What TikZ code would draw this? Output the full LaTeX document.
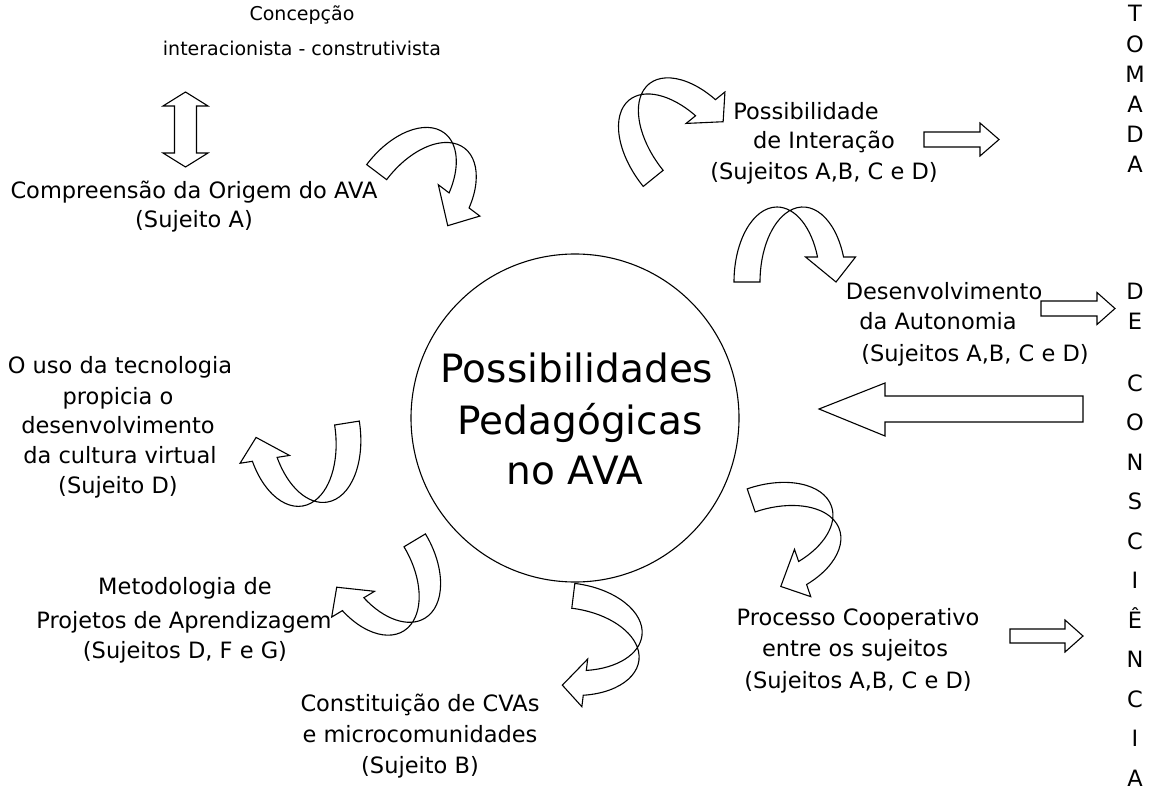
\documentclass[tikz,border=0pt]{standalone}
\usepackage{fontspec}
\setmainfont{DejaVu Sans}
\tikzset{
  ribbon/.style={draw=black, fill=white, line width=1.1pt, line join=miter},
  blockarrow/.style={draw=black, fill=white, line width=1.1pt},
  lbl/.style={anchor=base, inner sep=0pt, font=\fontsize{22.5}{29}\selectfont},
  small/.style={anchor=base, inner sep=0pt, font=\fontsize{19}{29}\selectfont},
  big/.style={anchor=base, inner sep=0pt, font=\fontsize{39}{50}\selectfont},
  vlet/.style={anchor=base, inner sep=0pt, font=\fontsize{22.5}{29}\selectfont},
}
% curved ribbon arrow: #1 transforms, #2 a, #3 b, #4 band width, #5 head height, #6 head half width
\newcommand{\crvarrow}[6]{%
  \begin{scope}[#1, yscale=-1]
    \pgfmathsetmacro{\th}{asin(#5/#3)}
    \pgfmathsetmacro{\hc}{#2*cos(\th)}
    \draw[ribbon] (-#2-#4/2,0) arc[start angle=180, end angle=\th, x radius=#2, y radius=#3]
      -- (\hc-#6,#5) -- (#2+3,0) -- (\hc+#6,#5) -- (\hc+#4/2,#5)
      arc[start angle=\th, end angle=180, x radius=#2, y radius=#3] -- cycle;
  \end{scope}}
\begin{document}
\begin{tikzpicture}[x=1pt,y=-1pt]
\useasboundingbox (0,0) rectangle (1159,794);

% central circle
\node[draw, circle, line width=1.1pt, minimum size=328pt, inner sep=0pt] (core) at (575,418) {};
\node[big] (t1) at (577,382) {Possibilidades};
\node[big] (t2) at (580,434) {Pedagógicas};
\node[big] (t3) at (575,484) {no AVA};

% top-left texts
\node[small] (c1) at (302,21) {Concepção};
\node[small] (c2) at (302,56) {interacionista - construtivista};
\node[lbl] (o1) at (194,199) {Compreensão da Origem do AVA};
\node[lbl] (o2) at (194,228) {(Sujeito A)};

% double arrow
\draw[blockarrow] (185.5,92) -- (208,106) -- (196.5,106) -- (196.5,153) -- (208,153) -- (185.5,167)
  -- (163,153) -- (174.5,153) -- (174.5,106) -- (163,106) -- cycle;

% right texts
\node[lbl] (i1) at (806,120) {Possibilidade};
\node[lbl] (i2) at (824,149) {de Interação};
\node[lbl] (i3) at (824,180) {(Sujeitos A,B, C e D)};
\node[lbl] (d1) at (944,300) {Desenvolvimento};
\node[lbl] (d2) at (938,330) {da Autonomia};
\node[lbl] (d3) at (975,361) {(Sujeitos A,B, C e D)};
\node[lbl] (p1) at (858,625) {Processo Cooperativo};
\node[lbl] (p2) at (855,656) {entre os sujeitos};
\node[lbl] (p3) at (858,688) {(Sujeitos A,B, C e D)};

% left texts
\node[lbl] (u1) at (120,373) {O uso da tecnologia};
\node[lbl] (u2) at (118,404) {propicia o};
\node[lbl] (u3) at (118,433) {desenvolvimento};
\node[lbl] (u4) at (120,463) {da cultura virtual};
\node[lbl] (u5) at (118,493) {(Sujeito D)};
\node[lbl] (m1) at (185,594) {Metodologia de};
\node[lbl] (m2) at (184,628) {Projetos de Aprendizagem};
\node[lbl] (m3) at (185,658) {(Sujeitos D, F e G)};
\node[lbl] (v1) at (420,711) {Constituição de CVAs};
\node[lbl] (v2) at (420,742) {e microcomunidades};
\node[lbl] (v3) at (420,773) {(Sujeito B)};

% straight arrows
\draw[blockarrow] (924,132) -- (980,132) -- (980,123) -- (999,139.5) -- (980,156) -- (980,147) -- (924,147) -- cycle;
\draw[blockarrow] (1041,301) -- (1097,301) -- (1097,292.5) -- (1115,308.5) -- (1097,324.5) -- (1097,316) -- (1041,316) -- cycle;
\draw[blockarrow] (1010,629) -- (1065,629) -- (1065,620) -- (1083,636) -- (1065,652) -- (1065,643) -- (1010,643) -- cycle;
\draw[blockarrow] (1083,396) -- (885,396) -- (885,383) -- (819,409) -- (885,436) -- (885,422) -- (1083,422) -- cycle;

% curved arrows
\crvarrow{shift={(411,198)}, rotate=-37}{43}{72}{25}{27}{26}
\crvarrow{shift={(687,151)}, rotate=39}{43.5}{76}{25.6}{22}{25}
\crvarrow{shift={(790,282)}}{43}{75}{26}{25}{25}
\crvarrow{shift={(303,430)}, rotate=-171}{44.5}{75}{25}{23}{25}
\crvarrow{shift={(377,563)}, rotate=-149}{44}{72}{25}{23}{25}
\crvarrow{shift={(568,639)}, rotate=-97}{43.5}{73}{25}{22}{24}
\crvarrow{shift={(765.5,542)}, rotate=-71}{44}{74}{24.4}{25}{25}

% vertical text
\foreach \l/\y [count=\k] in {T/14,O/45,M/75,A/105,D/135,A/165,D/292,E/322,C/383,O/422.5,N/462,S/501.5,C/541,I/580.5,Ê/620,N/659.5,C/699,I/738.5,A/778}
  \node[vlet] (v\k) at (1135,\y+8) {\l};
\end{tikzpicture}
\end{document}
